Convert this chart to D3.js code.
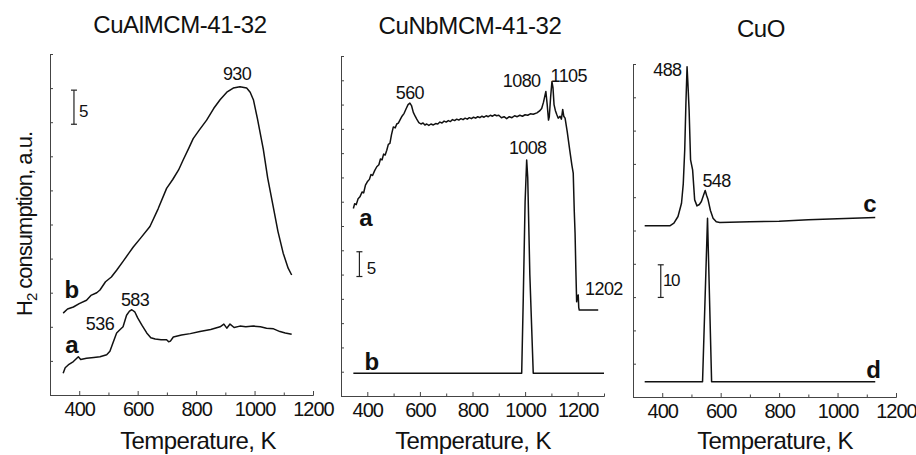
<!DOCTYPE html>
<html lang="en">
<head>
    <meta charset="UTF-8">
    <title>TPR profiles</title>
    <script src="https://d3js.org/d3.v7.min.js"></script>
    <style>
        body {
            margin: 0;
            padding: 0;
            background: white;
            font-family: Arial, "Liberation Sans", sans-serif;
        }
        svg {
            display: block;
        }
        .axis path, .axis line {
            stroke: #444;
            stroke-width: 1;
        }
        .axis text {
            font-family: Arial, "Liberation Sans", sans-serif;
            font-size: 20px;
            letter-spacing: -1px;
            fill: #111;
        }
        .curve {
            fill: none;
            stroke: #111;
            stroke-width: 1.5;
            stroke-linejoin: round;
        }
    </style>
</head>
<body>
    <svg id="chart" width="916" height="455"></svg>

    <script>
        // --- data: temperature (K), H2 consumption (a.u.) ---
        let titles = ["CuAlMCM-41-32", "CuNbMCM-41-32", "CuO"];
        let xTicks = [400, 600, 800, 1000, 1200];

        // CuAlMCM-41-32
        let alCurveB = [[345,12.0],[360,12.6],[380,12.9],[400,13.4],[425,13.9],[440,14.6],[460,15.0],[471,15.4],
            [490,16.6],[510,17.3],[528,18.3],[550,19.6],[570,20.8],[585,21.7],[610,23.0],[642,24.7],[670,27.3],
            [699,30.3],[720,31.6],[740,33.0],[756,34.5],[775,36.2],[790,37.6],[810,38.8],[836,40.3],[860,42.0],
            [882,43.3],[905,44.4],[927,45.0],[950,45.2],[973,45.0],[985,44.4],[996,43.3],[1010,40.5],[1030,36.0],
            [1045,31.8],[1064,27.6],[1080,24.0],[1098,20.8],[1115,18.6],[1127,17.6]];
        let alCurveA = [[345,3.2],[352,4.0],[365,4.5],[380,4.9],[397,5.6],[405,5.2],[425,5.4],[450,5.5],[471,5.6],
            [494,5.9],[505,6.4],[515,7.6],[528,9.1],[540,9.6],[550,10.0],[562,11.7],[572,12.3],[580,12.5],[590,12.2],
            [600,11.3],[615,10.2],[631,9.1],[645,8.4],[660,8.2],[680,8.1],[699,8.1],[706,7.8],[712,7.9],[722,8.5],[750,8.8],
            [780,9.0],[813,9.3],[850,9.6],[882,10.0],[895,10.4],[905,9.8],[916,10.4],[930,9.9],[950,10.1],[970,10.0],
            [996,10.1],[1020,10.0],[1041,9.8],[1065,9.7],[1087,9.3],[1105,9.1],[1127,8.9]];

        // CuNbMCM-41-32
        let nbCurveA = [[347,38.6],[352,39.6],[358,39.4],[365,40.6],[372,41.0],[380,42.0],[386,41.8],[393,43.4],
            [400,44.1],[408,44.6],[414,45.6],[420,45.4],[428,46.4],[436,47.2],[444,47.6],[450,48.8],[456,48.6],
            [462,49.8],[468,49.6],[474,50.6],[480,51.8],[486,52.0],[492,53.8],[499,55.4],[506,55.2],[512,56.0],
            [518,56.2],[524,56.8],[532,57.6],[540,58.2],[548,59.2],[555,60.0],[562,60.3],[568,59.8],[575,58.4],
            [582,57.6],[588,57.0],[596,56.3],[604,56.0],[612,56.2],[619,55.8],[626,56.0],[634,55.7],[642,56.0],
            [651,55.8],[660,56.1],[668,56.0],[676,56.4],[684,56.2],[692,56.6],[700,56.4],[708,56.7],[716,56.5],
            [724,56.9],[732,56.7],[740,57.0],[748,56.8],[756,57.1],[764,56.9],[772,57.2],[780,57.0],[788,57.3],
            [796,57.1],[804,57.4],[812,57.2],[820,57.5],[828,57.3],[836,57.6],[844,57.4],[852,57.7],[860,57.5],
            [868,57.8],[876,57.6],[884,57.9],[892,57.7],[900,57.8],[910,57.3],[920,57.5],[930,57.1],[940,57.5],
            [950,57.3],[960,57.7],[970,57.5],[980,57.8],[990,57.6],[1000,57.9],[1010,57.8],[1020,58.1],[1031,58.0],
            [1045,58.3],[1055,58.7],[1063,59.2],[1070,60.5],[1076,62.0],[1079,62.7],[1084,60.0],[1089,56.8],
            [1092,57.5],[1097,61.5],[1102,64.7],[1106,63.5],[1110,60.0],[1115,58.8],[1120,58.0],[1126,57.2],
            [1133,57.6],[1138,57.0],[1143,59.0],[1147,57.6],[1152,57.2],[1160,54.5],[1170,50.5],[1178,47.5],
            [1183,45.9],[1187,38.0],[1190,33.5],[1193,26.0],[1196,19.4],[1199,20.5],[1202,20.8],[1204,18.2],
            [1206,17.7],[1278,17.7]];
        let nbCurveB = [[347,4.7],[987,4.7],[993,20],[1000,40],[1006,48.6],[1010,45],[1018,25],[1031,4.7],[1300,4.7]];

        // CuO
        let cuoCurveC = [[340,51.4],[426,51.4],[440,52.2],[454,54.2],[466,58.2],[472,64],[477,74.2],[481,88],
            [485,99.2],[488,94],[492,86.2],[497,71.2],[504,68.2],[511,59.2],[519,57.4],[527,57.8],[534,58.7],
            [541,60.5],[547,62.0],[552,60.5],[557,59.2],[565,56],[574,53.7],[585,52.6],[597,52.4],[700,52.6],
            [800,52.8],[900,53.2],[1000,53.5],[1129,53.9]];
        let cuoCurveD = [[340,4.6],[538,4.6],[555,53.7],[569,4.6],[1129,4.6]];

        // --- layout ---
        let panels = [
            {
                title: titles[0], titleX: 180, titleY: 33, xlabelX: 198,
                xRange: [50, 313], yRange: [395, 54], xDomain: [300, 1200], yDomain: [0, 50], yStep: 5,
                curves: [alCurveB, alCurveA],
                bar: { t: 382, v0: 39.7, v1: 44.7, label: "5", lt: 399, lv: 40.8 },
                notes: [
                    { t: 940, v: 46.2, text: "930" },
                    { t: 591, v: 13.0, text: "583" },
                    { t: 471, v: 9.5, text: "536" },
                    { t: 375, v: 14.2, text: "b", bold: true },
                    { t: 375, v: 6.1, text: "a", bold: true }
                ]
            },
            {
                title: titles[1], titleX: 470, titleY: 34, xlabelX: 473,
                xRange: [341, 604], yRange: [396, 56], xDomain: [300, 1300], yDomain: [0, 70], yStep: 5,
                curves: [nbCurveA, nbCurveB],
                bar: { t: 370, v0: 24.6, v1: 29.7, label: "5", lt: 398, lv: 25.1 },
                notes: [
                    { t: 562, v: 61.2, text: "560" },
                    { t: 987, v: 63.6, text: "1080" },
                    { t: 1097, v: 64.6, text: "1105", anchor: "start" },
                    { t: 1010, v: 49.8, text: "1008" },
                    { t: 1228, v: 20.8, text: "1202", anchor: "start" },
                    { t: 395, v: 35, text: "a", bold: true },
                    { t: 417, v: 5.4, text: "b", bold: true }
                ]
            },
            {
                title: titles[2], titleX: 761, titleY: 37, xlabelX: 775,
                xRange: [633, 896], yRange: [397, 64], xDomain: [300, 1200], yDomain: [0, 100], yStep: 10,
                curves: [cuoCurveC, cuoCurveD],
                bar: { t: 395, v0: 29.9, v1: 39.7, label: "10", lt: 403, lv: 33.2 },
                notes: [
                    { t: 466, v: 96.4, text: "488", anchor: "end" },
                    { t: 586, v: 63.2, text: "548" },
                    { t: 1111, v: 55.7, text: "c", bold: true },
                    { t: 1123, v: 5.8, text: "d", bold: true }
                ]
            }
        ];

        let svg = d3.select("#chart");

        panels.forEach(p => {
            let x = d3.scaleLinear().domain(p.xDomain).range(p.xRange);
            let y = d3.scaleLinear().domain(p.yDomain).range(p.yRange);
            let bottom = p.yRange[0];
            let left = p.xRange[0];

            // minor x ticks every 100 K
            let minor = d3.range(p.xDomain[0] + 100, p.xDomain[1] + 1, 100).filter(v => v % 200 !== 0);
            svg.append("g")
                .attr("class", "axis")
                .attr("transform", `translate(0,${bottom})`)
                .call(d3.axisBottom(x).tickValues(minor).tickSize(-2.5).tickSizeOuter(0).tickFormat(""));

            svg.append("g")
                .attr("class", "axis")
                .attr("transform", `translate(0,${bottom})`)
                .call(d3.axisBottom(x).tickValues(xTicks.filter(v => v <= p.xDomain[1]))
                    .tickSize(-4).tickSizeOuter(0).tickPadding(7).tickFormat(d3.format("d")));

            let yTicks = d3.range(p.yDomain[0], p.yDomain[1] + 0.1, p.yStep);
            svg.append("g")
                .attr("class", "axis")
                .attr("transform", `translate(${left},0)`)
                .call(d3.axisLeft(y).tickValues(yTicks).tickSize(-3).tickSizeOuter(0).tickFormat(""));

            // curves
            let line = d3.line().x(d => x(d[0])).y(d => y(d[1]));
            p.curves.forEach(c => {
                svg.append("path").attr("class", "curve").attr("d", line(c));
            });

            // scale bar
            let b = p.bar;
            let bx = x(b.t);
            svg.append("line").attr("x1", bx).attr("x2", bx).attr("y1", y(b.v0)).attr("y2", y(b.v1))
                .attr("stroke", "#222").attr("stroke-width", 1.2);
            [b.v0, b.v1].forEach(v => {
                svg.append("line").attr("x1", bx - 3).attr("x2", bx + 3).attr("y1", y(v)).attr("y2", y(v))
                    .attr("stroke", "#222").attr("stroke-width", 1.2);
            });
            svg.append("text")
                .attr("x", x(b.lt)).attr("y", y(b.lv))
                .attr("font-size", "17px")
                .attr("letter-spacing", "-1.5px")
                .attr("fill", "#111")
                .text(b.label);

            // peak labels and curve letters
            p.notes.forEach(n => {
                svg.append("text")
                    .attr("x", x(n.t)).attr("y", y(n.v))
                    .attr("text-anchor", n.anchor || "middle")
                    .attr("font-size", n.bold ? "24px" : "18px")
                    .attr("font-weight", n.bold ? "bold" : "normal")
                    .attr("letter-spacing", n.bold ? "0px" : "-0.6px")
                    .attr("fill", "#111")
                    .text(n.text);
            });

            // title
            svg.append("text")
                .attr("x", p.titleX).attr("y", p.titleY)
                .attr("text-anchor", "middle")
                .attr("font-size", "24px")
                .attr("letter-spacing", "-0.4px")
                .attr("fill", "#111")
                .text(p.title);

            // x axis label
            svg.append("text")
                .attr("x", p.xlabelX).attr("y", 449)
                .attr("text-anchor", "middle")
                .attr("font-size", "24px")
                .attr("letter-spacing", "-0.6px")
                .attr("fill", "#111")
                .text("Temperature, K");
        });

        // y axis label
        let ylab = svg.append("text")
            .attr("transform", "translate(32,224) rotate(-90)")
            .attr("text-anchor", "middle")
            .attr("font-size", "22px")
            .attr("letter-spacing", "-1px")
            .attr("fill", "#111");
        ylab.append("tspan").text("H");
        ylab.append("tspan").attr("font-size", "15px").attr("dy", 5).text("2");
        ylab.append("tspan").attr("dy", -5).text(" consumption, a.u.");
    </script>
</body>
</html>
